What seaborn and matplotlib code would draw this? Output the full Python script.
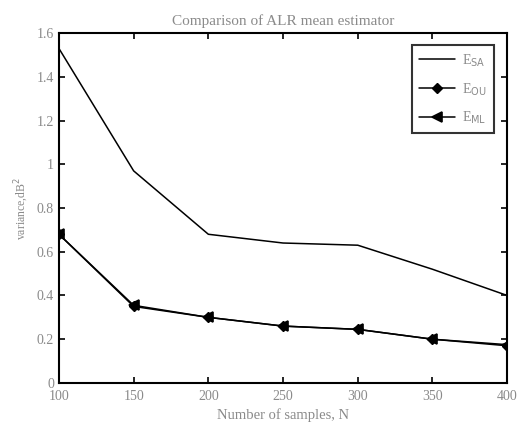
import numpy as np
import pandas as pd
import seaborn as sns
import matplotlib
matplotlib.use("Agg")
import matplotlib.pyplot as plt

N = [100, 150, 200, 250, 300, 350, 400]
E_SA = [1.53, 0.97, 0.68, 0.64, 0.63, 0.52, 0.40]
E_OU = [0.68, 0.35, 0.30, 0.26, 0.245, 0.20, 0.17]
E_ML = [0.68, 0.355, 0.30, 0.26, 0.245, 0.20, 0.175]
xticks = [100, 150, 200, 250, 300, 350, 400]
yticks = [0, 0.2, 0.4, 0.6, 0.8, 1, 1.2, 1.4, 1.6]

sns.set_style("ticks")
plt.rcParams['font.family'] = ['Liberation Serif', 'DejaVu Serif']
txt = '#8a8a8a'

fig = plt.figure(figsize=(5.17, 4.25), dpi=100)
ax = fig.add_axes([0.114, 0.099, 0.867, 0.823])

df = pd.DataFrame({'N': N, 'SA': E_SA, 'OU': E_OU, 'ML': E_ML})
sns.lineplot(data=df, x='N', y='SA', ax=ax, color='black', lw=1.1, linestyle='-',
             label=r'E$_{\mathrm{SA}}$')
sns.lineplot(data=df, x='N', y='OU', ax=ax, color='black', lw=1.1, linestyle='-',
             marker='D', markersize=5, markerfacecolor='black', markeredgecolor='black',
             markeredgewidth=1.0, label=r'E$_{\mathrm{OU}}$')
sns.lineplot(data=df, x='N', y='ML', ax=ax, color='black', lw=1.1, linestyle='-',
             marker='<', markersize=7, markerfacecolor='black', markeredgecolor='black',
             markeredgewidth=1.2, label=r'E$_{\mathrm{ML}}$')

ax.set_xlim(100, 400)
ax.set_ylim(0, 1.6)
ax.set_xticks(xticks)
ax.set_yticks(yticks)
ax.set_yticklabels(['0', '0.2', '0.4', '0.6', '0.8', '1', '1.2', '1.4', '1.6'])
ax.tick_params(direction='in', top=True, right=True, colors='black', labelcolor=txt,
               labelsize=10, length=4, width=1.2)
ax.tick_params(axis='x', pad=5)
for s in ax.spines.values():
    s.set_linewidth(1.5)
    s.set_color('black')
ax.set_xlabel('Number of samples, N', color=txt, fontsize=10.5)
ax.set_ylabel(r'variance,dB$^2$', color=txt, fontsize=8.5)
ax.set_title('Comparison of ALR mean estimator', color=txt, fontsize=11)

leg = ax.legend(loc='upper right', frameon=True, fancybox=False, shadow=False,
                fontsize=10, handlelength=2.6, borderpad=0.5, labelspacing=0.9,
                handletextpad=0.5, bbox_to_anchor=(0.985, 0.985))
leg.get_frame().set_edgecolor('black')
leg.get_frame().set_linewidth(1.5)
for t in leg.get_texts():
    t.set_color(txt)

fig.savefig('out.png', dpi=100)
